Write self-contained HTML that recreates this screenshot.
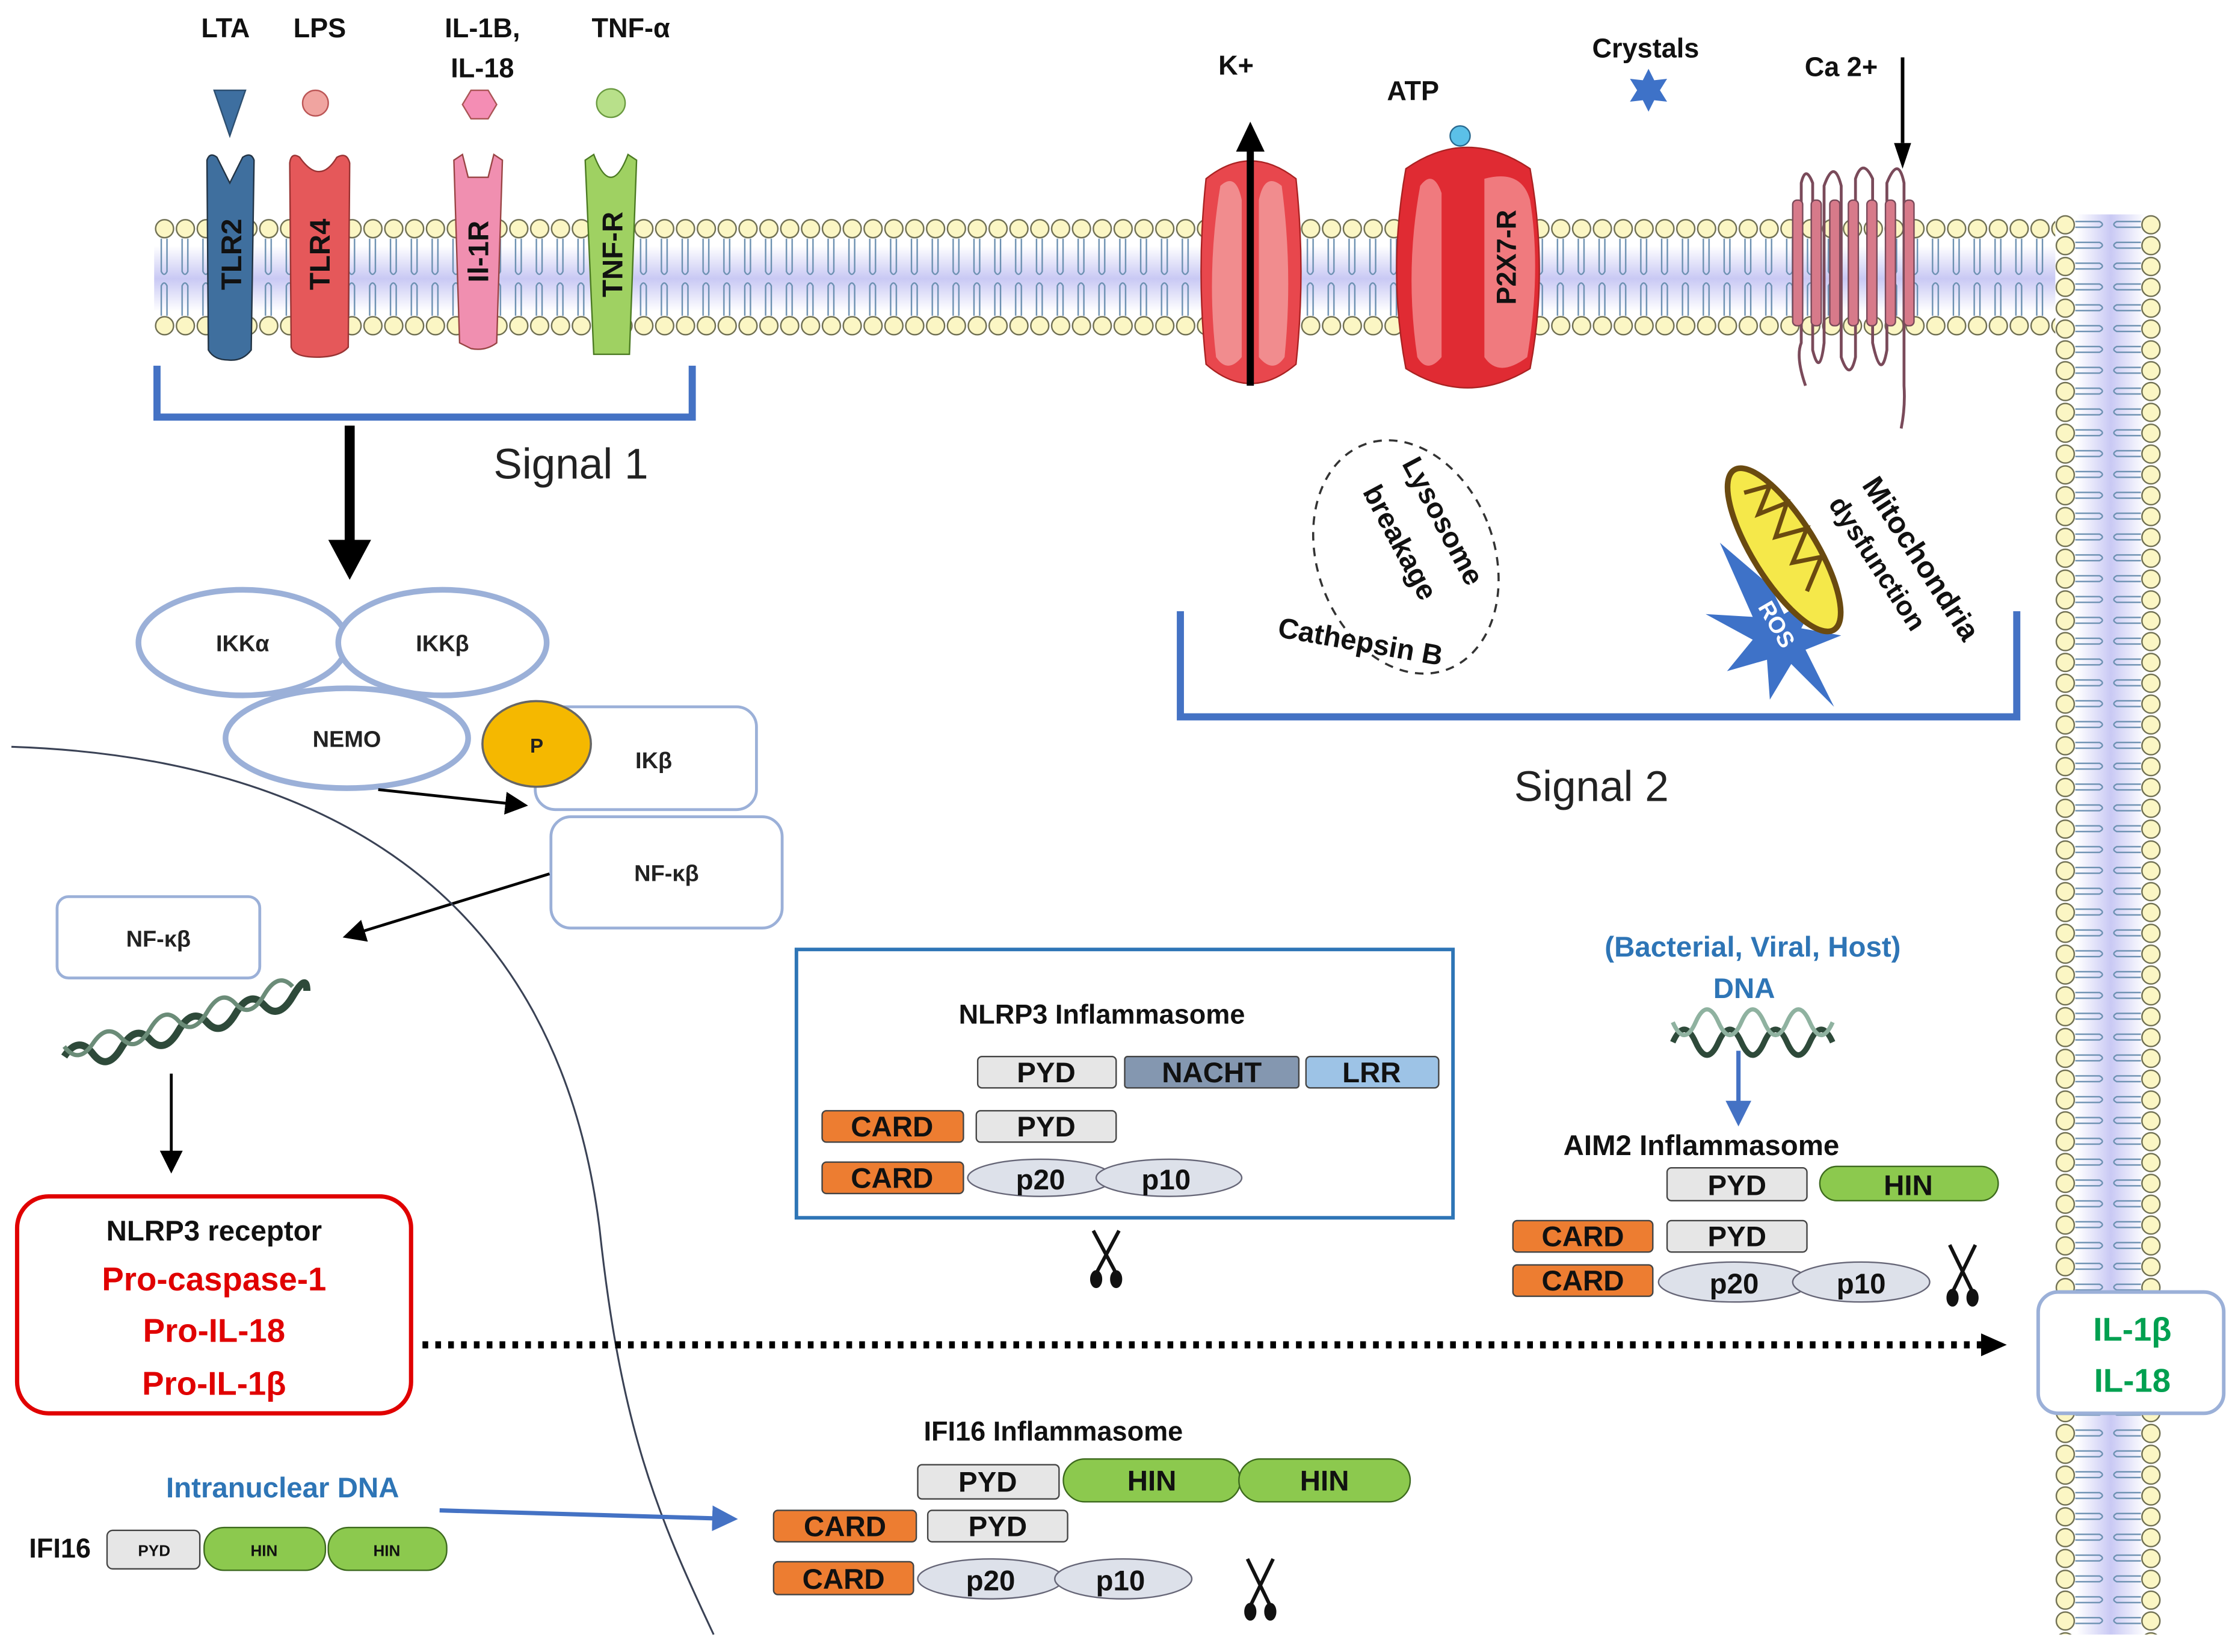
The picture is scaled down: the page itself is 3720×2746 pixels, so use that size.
<!DOCTYPE html>
<html><head><meta charset="utf-8"><style>
html,body{margin:0;padding:0;background:#fff}
svg{display:block}
text{font-family:"Liberation Sans",sans-serif}
</style></head><body>
<svg width="3720" height="2746" viewBox="0 0 1568 1157" xmlns="http://www.w3.org/2000/svg">
<defs>
<linearGradient id="band" x1="0" y1="0" x2="0" y2="1"><stop offset="0" stop-color="#fff"/><stop offset="0.5" stop-color="#c9c9f4"/><stop offset="1" stop-color="#fff"/></linearGradient>
<linearGradient id="bandv" x1="0" y1="0" x2="1" y2="0"><stop offset="0" stop-color="#fff"/><stop offset="0.5" stop-color="#c9c9f4"/><stop offset="1" stop-color="#fff"/></linearGradient>
<pattern id="mh" patternUnits="userSpaceOnUse" x="108" y="150" width="14.6" height="90">
<circle cx="7.3" cy="10" r="6.3" fill="#fbf6c4" stroke="#6d6d50" stroke-width="1"/>
<circle cx="7.3" cy="78" r="6.3" fill="#fbf6c4" stroke="#6d6d50" stroke-width="1"/>
<path d="M5,17 V40 Q7,44 9,40 V17 M5,71 V50 Q7,46 9,50 V71" fill="none" stroke="#6a8fb0" stroke-width="1"/>
</pattern>
<pattern id="mv" patternUnits="userSpaceOnUse" x="1437" y="150" width="80" height="14.6">
<circle cx="10" cy="7.3" r="6.3" fill="#fbf6c4" stroke="#6d6d50" stroke-width="1"/>
<circle cx="70" cy="7.3" r="6.3" fill="#fbf6c4" stroke="#6d6d50" stroke-width="1"/>
<path d="M17,5 H34 Q38,7 34,9 H17 M63,5 H46 Q42,7 46,9 H63" fill="none" stroke="#6a8fb0" stroke-width="1"/>
</pattern>
<marker id="ah" markerWidth="8" markerHeight="8" refX="7" refY="4" orient="auto" markerUnits="strokeWidth"><path d="M0,0 L8,4 L0,8 z" fill="#000"/></marker>
<marker id="ahb" markerWidth="6" markerHeight="6" refX="5" refY="3" orient="auto" markerUnits="strokeWidth"><path d="M0,0 L6,3 L0,6 z" fill="#4472c4"/></marker>
</defs>

<!-- membranes -->
<rect x="108" y="172" width="1332" height="46" fill="url(#band)"/>
<rect x="108" y="150" width="1332" height="90" fill="url(#mh)"/>
<rect x="1455" y="150" width="48" height="995" fill="url(#bandv)"/>
<rect x="1437" y="150" width="80" height="995" fill="url(#mv)"/>

<!-- ligands -->
<g font-weight="bold" font-size="19" text-anchor="middle" fill="#111">
<text x="158" y="26">LTA</text><text x="224" y="26">LPS</text>
<text x="338" y="26">IL-1B,</text><text x="338" y="54">IL-18</text><text x="442" y="26">TNF-α</text>
<text x="866" y="52">K+</text><text x="990" y="70">ATP</text><text x="1153" y="40">Crystals</text><text x="1290" y="53">Ca 2+</text>
</g>
<path d="M150,63 L172,63 L161,95 z" fill="#3e6fa0" stroke="#2d4f70"/>
<circle cx="221" cy="72" r="9" fill="#f0a4a0" stroke="#b55"/>
<path d="M330,63 L342,63 L348,73 L342,83 L330,83 L324,73 z" fill="#f48db4" stroke="#a55"/>
<circle cx="428" cy="72" r="10" fill="#b8e08a" stroke="#6a9a40"/>

<!-- receptors -->
<path d="M145,112 Q147,106 152,110 L161,128 L170,110 Q176,106 178,112 L176,245 Q170,253 160,252 Q150,252 146,245 z" fill="#3f6f9e" stroke="#234"/>
<path d="M203,114 Q204,106 210,110 Q224,130 236,110 Q243,106 245,114 L244,243 Q238,250 222,250 Q206,250 204,243 z" fill="#e5585a" stroke="#933"/>
<path d="M318,112 L324,108 L328,124 L342,124 L346,108 L352,112 L348,240 Q340,246 330,244 L322,240 z" fill="#f08fb0" stroke="#944"/>
<path d="M410,112 L416,108 Q428,140 440,108 L446,112 L441,248 L416,248 z" fill="#9fd162" stroke="#4b7a22"/>
<g font-weight="bold" font-size="20" fill="#111" text-anchor="middle">
<text transform="translate(169,178) rotate(-90)">TLR2</text>
<text transform="translate(231,178) rotate(-90)">TLR4</text>
<text transform="translate(342,176) rotate(-90)">Il-1R</text>
<text transform="translate(436,178) rotate(-90)">TNF-R</text>
</g>

<!-- bracket signal 1 -->
<path d="M110,256 V292 H485 V256" fill="none" stroke="#4472c4" stroke-width="5"/>
<text x="400" y="335" font-size="30" text-anchor="middle" fill="#222">Signal 1</text>
<line x1="245" y1="298" x2="245" y2="380" stroke="#000" stroke-width="7"/>
<path d="M230,378 L260,378 L245,406 z" fill="#000"/>

<!-- IKK complex -->
<g fill="#fff" stroke="#9bb0d8" stroke-width="4">
<ellipse cx="170" cy="450" rx="73" ry="37"/>
<ellipse cx="310" cy="450" rx="73" ry="37"/>
<ellipse cx="243" cy="517" rx="85" ry="35"/>
</g>
<g stroke="#9bb0d8" stroke-width="2" fill="#fff">
<rect x="375" y="495" width="155" height="72" rx="14"/>
<rect x="386" y="572" width="162" height="78" rx="14"/>
<rect x="40" y="628" width="142" height="57" rx="8"/>
</g>
<ellipse cx="376" cy="521" rx="38" ry="30" fill="#f5b800" stroke="#666" stroke-width="1.5"/>
<g font-weight="bold" font-size="16" text-anchor="middle" fill="#222">
<text x="170" y="456">IKKα</text><text x="310" y="456">IKKβ</text><text x="243" y="523">NEMO</text>
<text x="376" y="527" font-size="14">P</text><text x="458" y="538">IKβ</text><text x="467" y="617">NF-κβ</text><text x="111" y="663">NF-κβ</text>
</g>
<line x1="265" y1="553" x2="368" y2="564" stroke="#000" stroke-width="2" marker-end="url(#ah)"/>
<line x1="385" y1="612" x2="242" y2="656" stroke="#000" stroke-width="2" marker-end="url(#ah)"/>

<!-- nucleus -->
<path d="M8,523 C220,530 390,620 420,860 C435,1000 460,1060 500,1145" fill="none" stroke="#3a4255" stroke-width="1.3"/>

<!-- DNA helix left -->
<path d="M45,740 Q55,725 65,738 T85,734 T105,728 T125,722 T145,716 T165,710 T185,704 T205,698 T215,694" fill="none" stroke="#2e4a3a" stroke-width="5"/>
<path d="M45,733 Q55,746 65,731 T85,727 T105,721 T125,715 T145,709 T165,703 T185,697 T205,691" fill="none" stroke="#6b8c78" stroke-width="3"/>
<line x1="120" y1="752" x2="120" y2="820" stroke="#000" stroke-width="2" marker-end="url(#ah)"/>

<!-- NLRP3 receptor box -->
<rect x="12" y="838" width="276" height="152" rx="22" fill="#fff" stroke="#e00000" stroke-width="3"/>
<g font-weight="bold" text-anchor="middle">
<text x="150" y="869" font-size="20" fill="#111">NLRP3 receptor</text>
<text x="150" y="904" font-size="23" fill="#e00000">Pro-caspase-1</text>
<text x="150" y="940" font-size="23" fill="#e00000">Pro-IL-18</text>
<text x="150" y="977" font-size="23" fill="#e00000">Pro-IL-1β</text>
</g>
<line x1="296" y1="942" x2="1388" y2="942" stroke="#000" stroke-width="5" stroke-dasharray="4,5"/>
<path d="M1388,934 L1406,942 L1388,950 z" fill="#000"/>

<!-- IL box -->
<rect x="1428" y="905" width="130" height="85" rx="14" fill="#fff" stroke="#9bb0d8" stroke-width="2.5"/>
<g font-weight="bold" font-size="23" fill="#00a050" text-anchor="middle">
<text x="1494" y="939">IL-1β</text><text x="1494" y="975">IL-18</text>
</g>

<!-- signal 2 -->
<path d="M827,428 V502 H1413 V428" fill="none" stroke="#4472c4" stroke-width="5"/>
<text x="1115" y="561" font-size="30" text-anchor="middle" fill="#222">Signal 2</text>

<!-- K+ channel -->
<path d="M845,125 Q876,100 908,125 Q915,190 908,255 Q876,282 845,255 Q838,190 845,125 z" fill="#e8474d" stroke="#a22"/>
<path d="M855,130 Q866,120 870,140 L870,250 Q860,262 852,250 Q845,190 855,130 z M882,140 Q886,120 898,130 Q906,190 900,250 Q892,262 882,250 z" fill="#f18c8e"/>
<line x1="876" y1="270" x2="876" y2="104" stroke="#000" stroke-width="5"/>
<path d="M866,106 L886,106 L876,85 z" fill="#000"/>

<!-- P2X7 -->
<path d="M985,118 Q1028,88 1072,118 Q1085,190 1072,258 Q1028,285 985,258 Q972,190 985,118 z" fill="#e02b33" stroke="#a22"/>
<path d="M995,130 Q1004,118 1010,135 L1010,250 Q1000,262 993,250 Q984,190 995,130 z M1040,125 Q1066,118 1072,140 Q1080,190 1070,250 Q1050,265 1040,250 z" fill="#f07a7e"/>
<text transform="translate(1062,180) rotate(-90)" font-weight="bold" font-size="19" text-anchor="middle" fill="#111">P2X7-R</text>
<circle cx="1023" cy="95" r="7" fill="#5bc0e8" stroke="#2a6a90"/>

<!-- crystals star -->
<path d="M1155,48 L1159,56 L1168,55 L1163,63 L1168,71 L1159,70 L1155,78 L1151,70 L1142,71 L1147,63 L1142,55 L1151,56 z" fill="#3e72c8"/>

<!-- Ca arrow and snake -->
<line x1="1333" y1="40" x2="1333" y2="100" stroke="#000" stroke-width="2.5"/>
<path d="M1327,100 L1339,100 L1333,118 z" fill="#000"/>
<path d="M1265,270 Q1258,250 1262,240 L1262,128 Q1265,115 1270,128 L1270,245 Q1275,265 1278,240 L1278,130 Q1285,110 1290,130 L1290,250 Q1296,268 1300,250 L1300,125 Q1305,110 1312,125 L1312,240 Q1318,268 1322,245 L1322,128 Q1330,108 1334,128 L1334,270 Q1335,285 1332,300" fill="none" stroke="#7a4a5a" stroke-width="2"/>
<g fill="#d77a8a" stroke="#7a4a5a" stroke-width="1">
<rect x="1256" y="140" width="7" height="88" rx="3"/><rect x="1269" y="140" width="7" height="88" rx="3"/><rect x="1282" y="140" width="7" height="88" rx="3"/><rect x="1295" y="140" width="7" height="88" rx="3"/><rect x="1308" y="140" width="7" height="88" rx="3"/><rect x="1321" y="140" width="7" height="88" rx="3"/><rect x="1334" y="140" width="7" height="88" rx="3"/>
</g>

<!-- lysosome -->
<ellipse cx="985" cy="390" rx="62" ry="84" transform="rotate(-20 985 390)" fill="none" stroke="#333" stroke-width="1.5" stroke-dasharray="6,5"/>
<g font-weight="bold" font-size="20" fill="#111" text-anchor="middle">
<text transform="translate(1005,368) rotate(62)">Lysosome</text>
<text transform="translate(975,383) rotate(62)">breakage</text>
<text transform="translate(952,456) rotate(10)">Cathepsin B</text>
</g>

<!-- mitochondria -->
<path d="M1240,410 L1250,430 L1275,415 L1262,440 L1290,445 L1265,455 L1285,495 L1255,465 L1240,490 L1238,462 L1210,470 L1228,448 L1195,430 L1228,432 L1205,380 z" fill="#3e72c8"/>
<text transform="translate(1240,440) rotate(60)" font-weight="bold" font-size="16" fill="#fff" text-anchor="middle">ROS</text>
<ellipse cx="1250" cy="385" rx="22" ry="66" transform="rotate(-32 1250 385)" fill="#f5e84a" stroke="#6a4a10" stroke-width="4"/>
<path d="M1222,345 L1240,340 L1232,360 L1252,352 L1244,376 L1266,370 L1256,394 L1276,390 L1266,414" fill="none" stroke="#6a4a10" stroke-width="3"/>
<g font-weight="bold" fill="#111" text-anchor="middle">
<text transform="translate(1340,395) rotate(57)" font-size="21">Mitochondria</text>
<text transform="translate(1310,398) rotate(57)" font-size="19">dysfunction</text>
</g>

<!-- domain style -->
<g font-weight="bold" text-anchor="middle" font-size="20" fill="#111">
<!-- NLRP3 inflammasome -->
<rect x="558" y="665" width="460" height="188" fill="#fff" stroke="#2e75b6" stroke-width="2.5"/>
<text x="772" y="717" font-size="19">NLRP3  Inflammasome</text>
<rect x="685" y="740" width="97" height="22" rx="3" fill="#e6e6e6" stroke="#444"/><text x="733" y="758">PYD</text>
<rect x="788" y="740" width="122" height="22" rx="2" fill="#8497b0" stroke="#444"/><text x="849" y="758">NACHT</text>
<rect x="915" y="740" width="93" height="22" rx="3" fill="#9dc3e6" stroke="#444"/><text x="961" y="758">LRR</text>
<rect x="576" y="778" width="99" height="22" rx="3" fill="#ed7d31" stroke="#444"/><text x="625" y="796">CARD</text>
<rect x="684" y="778" width="98" height="22" rx="3" fill="#e6e6e6" stroke="#444"/><text x="733" y="796">PYD</text>
<rect x="576" y="814" width="99" height="22" rx="3" fill="#ed7d31" stroke="#444"/><text x="625" y="832">CARD</text>
<ellipse cx="729" cy="825" rx="51" ry="13" fill="#dde1ea" stroke="#667"/><text x="729" y="833">p20</text>
<ellipse cx="819" cy="825" rx="51" ry="13" fill="#dde1ea" stroke="#667"/><text x="817" y="833">p10</text>

<!-- AIM2 -->
<text x="1228" y="670" fill="#2e75b6" font-size="20">(Bacterial, Viral, Host)</text>
<text x="1222" y="699" fill="#2e75b6" font-size="20">DNA</text>
<text x="1192" y="809" font-size="20">AIM2  Inflammasome</text>
<rect x="1168" y="818" width="98" height="23" rx="3" fill="#e6e6e6" stroke="#444"/><text x="1217" y="837">PYD</text>
<rect x="1275" y="817" width="125" height="24" rx="12" fill="#8cc94e" stroke="#3d6a1e"/><text x="1337" y="837">HIN</text>
<rect x="1060" y="855" width="98" height="22" rx="3" fill="#ed7d31" stroke="#444"/><text x="1109" y="873">CARD</text>
<rect x="1168" y="855" width="98" height="22" rx="3" fill="#e6e6e6" stroke="#444"/><text x="1217" y="873">PYD</text>
<rect x="1060" y="886" width="98" height="22" rx="3" fill="#ed7d31" stroke="#444"/><text x="1109" y="904">CARD</text>
<ellipse cx="1215" cy="898" rx="53" ry="14" fill="#dde1ea" stroke="#667"/><text x="1215" y="906">p20</text>
<ellipse cx="1304" cy="898" rx="48" ry="14" fill="#dde1ea" stroke="#667"/><text x="1304" y="906">p10</text>

<!-- IFI16 inflammasome -->
<text x="738" y="1009" font-size="19">IFI16  Inflammasome</text>
<rect x="643" y="1026" width="99" height="24" rx="3" fill="#e6e6e6" stroke="#444"/><text x="692" y="1045">PYD</text>
<rect x="745" y="1022" width="124" height="30" rx="15" fill="#8cc94e" stroke="#3d6a1e"/><text x="807" y="1044">HIN</text>
<rect x="868" y="1022" width="120" height="30" rx="15" fill="#8cc94e" stroke="#3d6a1e"/><text x="928" y="1044">HIN</text>
<rect x="542" y="1058" width="100" height="22" rx="3" fill="#ed7d31" stroke="#444"/><text x="592" y="1076">CARD</text>
<rect x="650" y="1058" width="98" height="22" rx="3" fill="#e6e6e6" stroke="#444"/><text x="699" y="1076">PYD</text>
<rect x="542" y="1094" width="98" height="23" rx="3" fill="#ed7d31" stroke="#444"/><text x="591" y="1113">CARD</text>
<ellipse cx="694" cy="1106" rx="51" ry="14" fill="#dde1ea" stroke="#667"/><text x="694" y="1114">p20</text>
<ellipse cx="787" cy="1106" rx="48" ry="14" fill="#dde1ea" stroke="#667"/><text x="785" y="1114">p10</text>

<!-- IFI16 left -->
<text x="198" y="1049" fill="#2e75b6" font-size="20">Intranuclear DNA</text>
<text x="42" y="1091" font-size="19">IFI16</text>
<rect x="75" y="1072" width="65" height="27" rx="4" fill="#e6e6e6" stroke="#444"/><text x="108" y="1090" font-size="11">PYD</text>
<rect x="143" y="1070" width="85" height="30" rx="14" fill="#8cc94e" stroke="#3d6a1e"/><text x="185" y="1090" font-size="11">HIN</text>
<rect x="230" y="1070" width="83" height="30" rx="14" fill="#8cc94e" stroke="#3d6a1e"/><text x="271" y="1090" font-size="11">HIN</text>
</g>
<line x1="308" y1="1058" x2="514" y2="1064" stroke="#4472c4" stroke-width="3" marker-end="url(#ahb)"/>

<!-- AIM2 DNA -->
<path d="M1172,730 Q1180,712 1188,730 T1204,730 T1220,730 T1236,730 T1252,730 T1268,730 T1284,730" fill="none" stroke="#2e4a3a" stroke-width="4"/>
<path d="M1172,716 Q1180,734 1188,716 T1204,716 T1220,716 T1236,716 T1252,716 T1268,716 T1284,716" fill="none" stroke="#8fb2a0" stroke-width="3"/>
<line x1="1218" y1="736" x2="1218" y2="786" stroke="#4472c4" stroke-width="3" marker-end="url(#ahb)"/>

<!-- scissors -->
<g stroke="#111" stroke-width="2.5" fill="#111">
<path d="M766,862 L782,892 M784,862 L768,892" fill="none"/><ellipse cx="768" cy="896" rx="3" ry="5"/><ellipse cx="782" cy="896" rx="3" ry="5"/>
<path d="M1366,872 L1382,905 M1384,872 L1368,905" fill="none"/><ellipse cx="1368" cy="909" rx="3" ry="5"/><ellipse cx="1382" cy="909" rx="3" ry="5"/>
<path d="M874,1092 L890,1125 M892,1092 L876,1125" fill="none"/><ellipse cx="876" cy="1129" rx="3" ry="5"/><ellipse cx="890" cy="1129" rx="3" ry="5"/>
</g>
</svg>
</body></html>
